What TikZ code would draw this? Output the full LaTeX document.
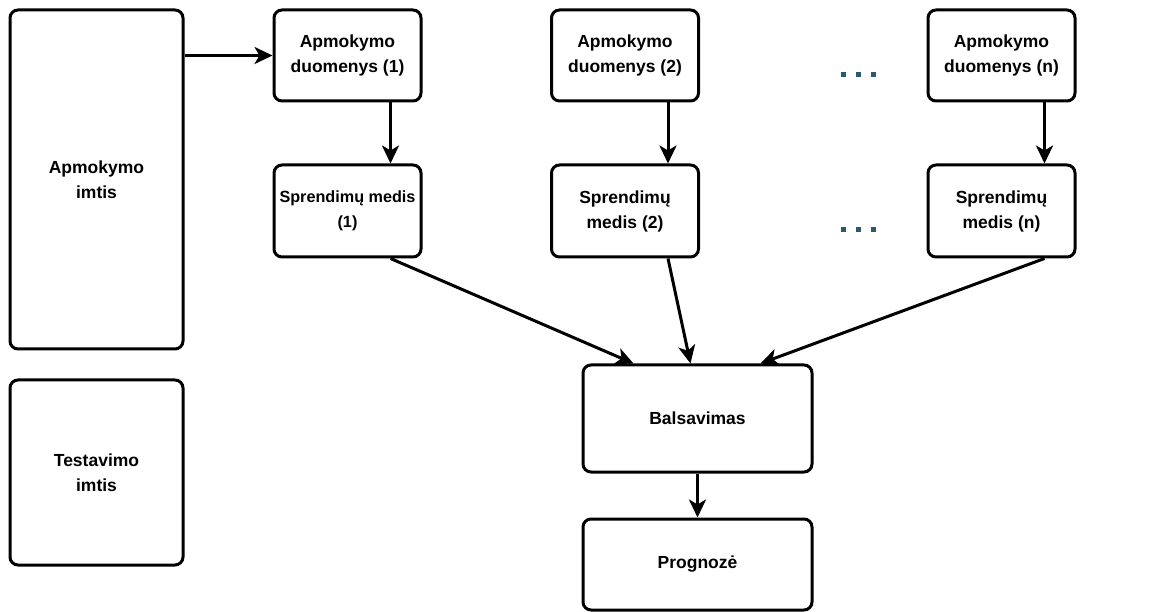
\documentclass[tikz,border=0pt]{standalone}
\usepackage{fontspec}
\setmainfont{Liberation Sans}
\usetikzlibrary{arrows.meta}
\definecolor{dotcol}{RGB}{40,92,108}
\begin{document}
\begin{tikzpicture}[x=1pt,y=-1pt,
  box/.style={draw=black,line width=3pt,rounded corners=8pt,fill=white,
    align=center,inner sep=0pt,
    font=\fontsize{17.5}{25}\selectfont\bfseries},
  narrow/.style={font=\fontsize{16.2}{25}\selectfont\bfseries},
  arr/.style={line width=3pt,-{Stealth[length=18pt,width=17pt,inset=5pt]}},
  dot/.style={fill=dotcol}]
\useasboundingbox (0,0) rectangle (1163,612);

% sample sets on the left
\node[box,minimum width=173pt,minimum height=339pt] (A) at (96.5,179.5) {Apmokymo\\imtis};
\node[box,minimum width=173pt,minimum height=185pt] (T) at (96.5,472.5) {Testavimo\\imtis};

% bootstrap training subsets
\node[box,minimum width=147pt,minimum height=91pt] (D1) at (347.5,55.5) {Apmokymo\\duomenys (1)};
\node[box,minimum width=147pt,minimum height=91pt] (D2) at (625,55.5) {Apmokymo\\duomenys (2)};
\node[box,minimum width=147pt,minimum height=91pt] (Dn) at (1001.5,55.5) {Apmokymo\\duomenys (n)};

% decision trees
\node[box,narrow,minimum width=147pt,minimum height=92pt] (M1) at (347.5,211) {Sprendimų medis\\(1)};
\node[box,minimum width=147pt,minimum height=92pt] (M2) at (625,211) {Sprendimų\\medis (2)};
\node[box,minimum width=147pt,minimum height=92pt] (Mn) at (1001.5,211) {Sprendimų\\medis (n)};

% voting and prediction
\node[box,minimum width=229pt,minimum height=107pt] (B) at (697.5,418.5) {Balsavimas};
\node[box,minimum width=229pt,minimum height=91pt] (P) at (697.5,564.5) {Prognozė};

% ellipsis marks between columns
\foreach \y in {75,230}{
  \foreach \x in {843,858,873}{
    \fill[dot] (\x-2.5,\y-2.5) rectangle (\x+2.5,\y+2.5);
  }
}

% connectors
\draw[arr] (A.east |- D1.west) -- (D1.west);
\draw[arr] ([xshift=43pt]D1.south) -- ([xshift=43pt]M1.north);
\draw[arr] ([xshift=43pt]D2.south) -- ([xshift=43pt]M2.north);
\draw[arr] ([xshift=43pt]Dn.south) -- ([xshift=43pt]Mn.north);
\draw[arr] ([xshift=43pt]M1.south) -- ([xshift=-64pt]B.north);
\draw[arr] ([xshift=43pt]M2.south) -- ([xshift=-7pt]B.north);
\draw[arr] ([xshift=43pt]Mn.south) -- ([xshift=63pt]B.north);
\draw[arr] (B.south) -- (P.north);
\end{tikzpicture}
\end{document}
